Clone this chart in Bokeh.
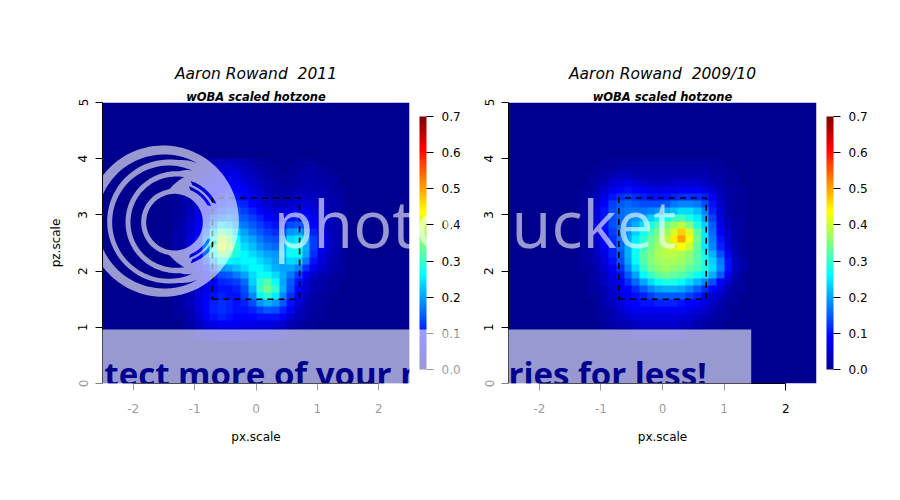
import math
import numpy as np
from bokeh.core.properties import value
from bokeh.embed import file_html
from bokeh.layouts import row
from bokeh.models import (BoxAnnotation, ColorBar, FixedTicker, LinearColorMapper,
                          NumeralTickFormatter, Range1d)
from bokeh.plotting import figure
from bokeh.resources import INLINE

TITLE_LEFT = "Aaron Rowand\u00a0\u00a02011"
TITLE_RIGHT = "Aaron Rowand\u00a0\u00a02009/10"
SUBTITLE = "wOBA scaled hotzone"
X_LABEL = "px.scale"
Y_LABEL = "pz.scale"
X_TICKS = [-2, -1, 0, 1, 2]
Y_TICKS = [0, 1, 2, 3, 4, 5]
BAR_TICKS = [0.0, 0.1, 0.2, 0.3, 0.4, 0.5, 0.6, 0.7]
ZONE_X = [-0.71, 0.71, 0.71, -0.71, -0.71]
ZONE_Y = [1.5, 1.5, 3.3, 3.3, 1.5]

# wOBA x 100.  Rows: pz = 3.94 down to 0.81 in steps of 0.125;
# columns: px = -1.31 to 1.44 in steps of 0.125.  Cells outside this block are 0.
HEAT_2011 = [
    [0, 0, 1, 2, 3, 3, 4, 4, 4, 3, 2, 1, 1, 0, 0, 0, 1, 1, 1, 0, 0, 0, 0],
    [0, 1, 1, 2, 3, 5, 5, 6, 5, 4, 3, 2, 1, 1, 0, 1, 1, 2, 2, 1, 1, 0, 0],
    [0, 1, 2, 3, 5, 6, 7, 7, 7, 5, 4, 3, 2, 1, 1, 1, 2, 2, 2, 2, 1, 1, 0],
    [1, 1, 2, 4, 6, 7, 8, 9, 8, 7, 5, 4, 3, 2, 1, 1, 2, 3, 3, 2, 2, 1, 0],
    [1, 2, 3, 5, 7, 8, 9, 10, 9, 8, 6, 5, 3, 2, 2, 2, 3, 3, 3, 3, 2, 1, 1],
    [1, 2, 3, 5, 7, 9, 10, 11, 10, 9, 8, 6, 4, 3, 2, 3, 4, 4, 4, 3, 2, 2, 1],
    [1, 2, 3, 6, 8, 10, 11, 12, 12, 11, 9, 7, 5, 4, 4, 5, 6, 6, 5, 4, 3, 2, 1],
    [1, 2, 4, 6, 9, 11, 13, 14, 14, 13, 11, 9, 7, 6, 6, 7, 8, 8, 6, 5, 3, 2, 1],
    [1, 2, 4, 7, 10, 14, 16, 17, 16, 15, 13, 11, 9, 8, 8, 10, 11, 10, 8, 5, 4, 2, 1],
    [1, 3, 5, 8, 12, 18, 24, 22, 19, 17, 15, 13, 11, 10, 11, 14, 15, 13, 9, 6, 4, 3, 1],
    [2, 3, 5, 9, 15, 24, 33, 30, 23, 20, 17, 15, 13, 12, 14, 19, 20, 17, 11, 7, 4, 3, 1],
    [2, 3, 6, 10, 17, 29, 39, 36, 27, 22, 20, 17, 15, 14, 18, 24, 25, 20, 13, 7, 5, 3, 1],
    [2, 3, 6, 10, 18, 31, 41, 38, 29, 24, 22, 19, 17, 16, 21, 27, 27, 21, 13, 8, 5, 3, 1],
    [2, 3, 5, 9, 16, 27, 35, 33, 28, 26, 24, 22, 20, 19, 22, 27, 27, 20, 12, 7, 4, 3, 1],
    [1, 3, 4, 8, 13, 20, 26, 26, 25, 26, 26, 24, 22, 20, 21, 24, 23, 17, 10, 6, 4, 2, 1],
    [1, 2, 4, 6, 10, 15, 19, 20, 22, 24, 26, 26, 24, 21, 20, 20, 18, 12, 7, 5, 3, 2, 1],
    [1, 2, 3, 5, 8, 11, 14, 15, 17, 20, 24, 27, 27, 24, 21, 17, 13, 8, 5, 3, 2, 1, 1],
    [1, 2, 3, 5, 7, 9, 11, 12, 13, 16, 23, 29, 32, 27, 20, 15, 10, 6, 3, 2, 1, 1, 0],
    [1, 2, 3, 5, 7, 9, 10, 10, 11, 14, 21, 30, 34, 30, 21, 14, 9, 5, 3, 2, 1, 1, 0],
    [1, 2, 3, 6, 8, 10, 11, 10, 10, 13, 18, 26, 29, 25, 18, 12, 8, 4, 2, 1, 1, 0, 0],
    [1, 2, 4, 6, 9, 11, 12, 11, 10, 11, 14, 19, 21, 19, 15, 10, 6, 3, 2, 1, 1, 0, 0],
    [1, 2, 3, 6, 9, 11, 12, 11, 10, 10, 11, 13, 15, 14, 11, 8, 4, 3, 1, 1, 0, 0, 0],
    [1, 1, 3, 5, 8, 10, 11, 10, 9, 9, 9, 10, 10, 10, 8, 5, 3, 2, 1, 1, 0, 0, 0],
    [0, 1, 2, 4, 6, 7, 8, 8, 8, 7, 7, 7, 7, 6, 5, 3, 2, 1, 1, 0, 0, 0, 0],
    [0, 1, 1, 3, 4, 5, 6, 6, 6, 5, 5, 5, 5, 4, 3, 2, 1, 1, 0, 0, 0, 0, 0],
    [0, 0, 1, 2, 2, 3, 4, 4, 4, 4, 3, 3, 3, 3, 2, 1, 1, 0, 0, 0, 0, 0, 0],
]

HEAT_2010 = [
    [0, 0, 0, 1, 1, 1, 1, 1, 1, 1, 1, 1, 1, 1, 1, 1, 1, 1, 1, 0, 0, 0, 0],
    [0, 0, 1, 1, 1, 2, 2, 2, 2, 2, 2, 2, 2, 2, 2, 2, 2, 1, 1, 1, 0, 0, 0],
    [0, 1, 1, 2, 3, 4, 4, 3, 3, 3, 3, 3, 3, 3, 3, 3, 3, 2, 2, 1, 1, 0, 0],
    [0, 1, 2, 3, 5, 6, 7, 6, 5, 4, 4, 4, 5, 5, 5, 5, 4, 3, 2, 1, 1, 0, 0],
    [1, 1, 3, 5, 7, 9, 10, 9, 8, 7, 7, 7, 7, 8, 8, 8, 7, 5, 3, 2, 1, 1, 0],
    [1, 2, 4, 7, 10, 12, 13, 12, 11, 10, 10, 10, 11, 12, 12, 12, 11, 8, 4, 2, 1, 1, 0],
    [1, 2, 5, 9, 13, 15, 16, 15, 14, 14, 14, 15, 17, 18, 18, 17, 14, 10, 5, 2, 1, 1, 0],
    [1, 3, 6, 10, 14, 16, 17, 17, 17, 18, 19, 21, 22, 24, 24, 22, 18, 11, 6, 2, 1, 1, 0],
    [1, 3, 6, 10, 14, 16, 18, 19, 21, 23, 25, 27, 30, 31, 28, 25, 20, 13, 6, 3, 1, 1, 0],
    [1, 3, 6, 10, 14, 16, 18, 21, 24, 28, 31, 34, 37, 39, 35, 28, 23, 15, 7, 3, 2, 1, 0],
    [1, 2, 5, 9, 13, 16, 19, 23, 27, 31, 34, 37, 41, 47, 41, 33, 25, 16, 8, 4, 2, 1, 0],
    [1, 2, 5, 8, 12, 16, 20, 25, 29, 33, 36, 39, 45, 50, 43, 34, 25, 17, 10, 5, 2, 1, 0],
    [1, 2, 4, 8, 11, 16, 21, 26, 30, 34, 37, 39, 41, 44, 40, 33, 25, 18, 11, 6, 3, 1, 0],
    [1, 2, 4, 7, 11, 15, 21, 27, 32, 35, 38, 39, 39, 38, 36, 32, 27, 21, 14, 8, 3, 1, 0],
    [1, 2, 3, 6, 10, 14, 20, 26, 32, 35, 37, 38, 38, 37, 35, 32, 28, 23, 17, 10, 4, 2, 0],
    [1, 1, 3, 5, 8, 12, 18, 24, 30, 34, 36, 37, 36, 35, 33, 31, 28, 24, 18, 10, 4, 2, 0],
    [0, 1, 2, 4, 7, 10, 15, 20, 26, 30, 33, 34, 33, 32, 30, 27, 25, 21, 15, 8, 3, 1, 0],
    [0, 1, 2, 4, 6, 8, 12, 16, 20, 24, 27, 28, 28, 26, 24, 21, 18, 14, 9, 5, 2, 1, 0],
    [0, 1, 2, 3, 5, 7, 9, 12, 15, 18, 20, 21, 21, 20, 18, 15, 12, 9, 6, 3, 1, 1, 0],
    [0, 1, 1, 3, 5, 6, 8, 10, 11, 13, 15, 15, 15, 15, 13, 11, 8, 6, 4, 2, 1, 0, 0],
    [0, 0, 1, 3, 4, 6, 8, 9, 10, 10, 11, 11, 11, 10, 9, 8, 6, 4, 3, 1, 1, 0, 0],
    [0, 0, 1, 2, 3, 5, 7, 8, 8, 8, 8, 8, 8, 8, 7, 6, 5, 3, 2, 1, 0, 0, 0],
    [0, 0, 1, 1, 3, 4, 5, 6, 6, 6, 6, 6, 6, 6, 5, 4, 3, 2, 1, 1, 0, 0, 0],
    [0, 0, 0, 1, 2, 3, 3, 4, 5, 5, 5, 5, 5, 4, 4, 3, 2, 1, 1, 0, 0, 0, 0],
    [0, 0, 0, 1, 1, 2, 2, 3, 3, 3, 3, 3, 3, 3, 2, 2, 1, 1, 1, 0, 0, 0, 0],
    [0, 0, 0, 0, 1, 1, 1, 2, 2, 2, 2, 2, 2, 2, 1, 1, 1, 0, 0, 0, 0, 0, 0],
]


def grid(block):
    """Place the typed block in the 40 x 40 image (first image row is the bottom one)."""
    out = np.zeros((40, 40))
    for k, vals in enumerate(block):
        out[31 - k, 9:9 + len(vals)] = vals
    return out / 100


def jet(n=256):
    stops = [(0, (0, 0, 143)), (.125, (0, 0, 255)), (.375, (0, 255, 255)),
             (.625, (255, 255, 0)), (.875, (255, 0, 0)), (1, (128, 0, 0))]
    pal = []
    for k in range(n):
        t = k / (n - 1)
        for (a, ca), (b, cb) in zip(stops, stops[1:]):
            if t <= b:
                u = (t - a) / (b - a)
                c = [int(round(p + (q - p) * u)) for p, q in zip(ca, cb)]
                pal.append("#%02x%02x%02x" % tuple(c))
                break
    return pal


PALETTE = jet()
FONT = "DejaVu Sans"
WM = "Open Sans"
PX_X, PX_Y = 61.4, 56.2  # pixels per data unit


def logo_paths():
    """Photobucket rings: one disc with crescent-shaped holes (zoom-crop pixels)."""
    def to_data(zx, zy):
        return -2.5 + (100 + zx / 3 - 102) / PX_X, (383 - (140 + zy / 3)) / PX_Y

    def circle(cx, cy, rad):
        pts = [to_data(cx + rad * math.cos(a), cy + rad * math.sin(a))
               for a in np.linspace(0, 2 * math.pi, 120)]
        return [p[0] for p in pts], [p[1] for p in pts]

    def crescent(o, i, a0, a1):
        ang = np.linspace(a0, a1, 70)
        outer, inner = [], []
        for k, d in enumerate(ang):
            a = math.radians(d)
            t = min(1, 3.5 * math.sin(math.pi * k / 69))
            ox, oy = o[0] + o[2] * math.cos(a), o[1] + o[2] * math.sin(a)
            ix, iy = i[0] + i[2] * math.cos(a), i[1] + i[2] * math.sin(a)
            outer.append(to_data(ox, oy))
            inner.append(to_data(ox + t * (ix - ox), oy + t * (iy - oy)))
        pts = outer + inner[::-1]
        return [p[0] for p in pts], [p[1] for p in pts]

    holes = [
        circle(222, 245, 85),
        crescent((191, 243, 201), (206, 243, 186), 60, 300),
        crescent((205, 245, 170), (228, 245, 153), 65, 295),
        crescent((227, 245, 137), (222, 245, 100), 80, 280),
        crescent((230, 245, 130), (230, 245, 120), 25, 72),
        crescent((230, 245, 113), (230, 245, 104), 25, 72),
        crescent((230, 245, 130), (230, 245, 120), -72, -25),
        crescent((230, 245, 113), (230, 245, 104), -72, -25),
    ]
    ext = circle(188, 242, 227)
    return [[[ext[0]] + [h[0] for h in holes]]], [[[ext[1]] + [h[1] for h in holes]]]


def panel(heat, title, left, right, fw, y_label, band_right, band_text, band_x,
          wm_text, wm_x):
    p = figure(width=left + fw + right, height=468, output_backend="svg", toolbar_location=None,
               x_range=Range1d(-2.5, 2.5), y_range=Range1d(0, 5), frame_width=fw, frame_height=281,
               min_border_left=left, min_border_right=right, min_border_top=102, min_border_bottom=85,
               background_fill_color="white", border_fill_color="white")
    p.grid.visible = False
    p.outline_line_color = None
    mapper = LinearColorMapper(palette=PALETTE, low=0, high=0.7)
    p.image(image=[grid(heat)], x=-2.5, y=0, dw=5, dh=5, color_mapper=mapper, level="image")
    p.line(ZONE_X, ZONE_Y, line_color="black", line_width=1.6, line_dash="6 5")

    for ax, ticks, bounds in ((p.xaxis[0], X_TICKS, (-2, 2)), (p.yaxis[0], Y_TICKS, (0, 5))):
        ax.ticker = FixedTicker(ticks=ticks)
        ax.bounds = bounds
        ax.major_tick_in = 0
        ax.major_tick_out = 7
        ax.minor_tick_line_color = None
        ax.major_label_text_font = FONT
        ax.major_label_text_font_size = "12px"
        ax.major_label_text_color = "black"
        ax.axis_label_text_font = FONT
        ax.axis_label_text_font_size = "12px"
        ax.axis_label_text_font_style = "normal"
        ax.axis_label_text_color = "black"
    p.xaxis[0].axis_label = X_LABEL
    p.xaxis[0].major_label_overrides = {t: str(t) for t in X_TICKS}
    p.xaxis[0].major_label_standoff = 13
    p.xaxis[0].axis_label_standoff = 14
    p.yaxis[0].major_label_orientation = "vertical"
    p.yaxis[0].major_label_standoff = 8
    if y_label:
        p.yaxis[0].axis_label = y_label
        p.yaxis[0].axis_label_standoff = 13

    bar = ColorBar(color_mapper=mapper, ticker=FixedTicker(ticks=BAR_TICKS),
                   formatter=NumeralTickFormatter(format="0.0"), width=7, height=253,
                   location=(fw + 10, 14), padding=0, margin=0,
                   major_tick_in=0, major_tick_out=7, major_tick_line_color="black",
                   major_label_text_font=FONT, major_label_text_font_size="12px",
                   major_label_text_color="black", label_standoff=8,
                   background_fill_alpha=0, bar_line_color=None, border_line_color=None)
    p.add_layout(bar, "center")

    # photobucket watermark: translucent white over everything
    if y_label:
        xs, ys = logo_paths()
        p.multi_polygons(xs, ys, fill_color="white", fill_alpha=0.6, line_color=None)
    # banner inside the frame, with the slogan cut out of it
    p.add_layout(BoxAnnotation(left=-2.5, right=min(band_right, 2.5), top=0.96, bottom=0,
                               fill_color="white", fill_alpha=0.6, line_color=None, level="underlay"))
    p.text(x=[band_x], y=[0.17], text=[band_text], text_color="#00008f", text_font=value(WM),
           text_font_style="bold", text_font_size="33px", text_baseline="alphabetic")
    # banner over the axes and colour bar, outside the frame
    qs = [(-4.2, band_right, -0.66, 0), (-4.2, -2.5, 0, 0.96)]
    if band_right > 2.5:
        qs.append((2.5, band_right, 0, 0.96))
    p.quad(left=[q[0] for q in qs], right=[q[1] for q in qs], bottom=[q[2] for q in qs],
           top=[q[3] for q in qs], fill_color="white", fill_alpha=0.6, line_color=None, level="overlay")
    p.text(x=[wm_x], y=[2.85], text=[wm_text], text_font=value(WM), text_font_size="65px",
           text_color="white", text_alpha=0.6, text_baseline="alphabetic", level="overlay")

    p.text(x=[0], y=[5.51], text=[title], text_font=value(FONT), text_font_style="italic",
           text_font_size="15.5px", text_color="black", text_align="center",
           text_baseline="middle", level="overlay")
    p.text(x=[0], y=[5.09], text=[SUBTITLE], text_font=value(FONT), text_font_style="bold italic",
           text_font_size="11.5px", text_color="black", text_align="center",
           text_baseline="middle", level="overlay")
    return p


left = panel(HEAT_2011, TITLE_LEFT, 102, 53, 307, Y_LABEL, 4.5, "tect more of your m", -2.47,
             "photo", 0.285)
right = panel(HEAT_2010, TITLE_RIGHT, 46, 64, 308, None, 1.44, "ries for less!", -2.5,
              "ucket", -2.45)

page = row(left, right, spacing=0)
open("out.html", "w").write(file_html(page, INLINE))
